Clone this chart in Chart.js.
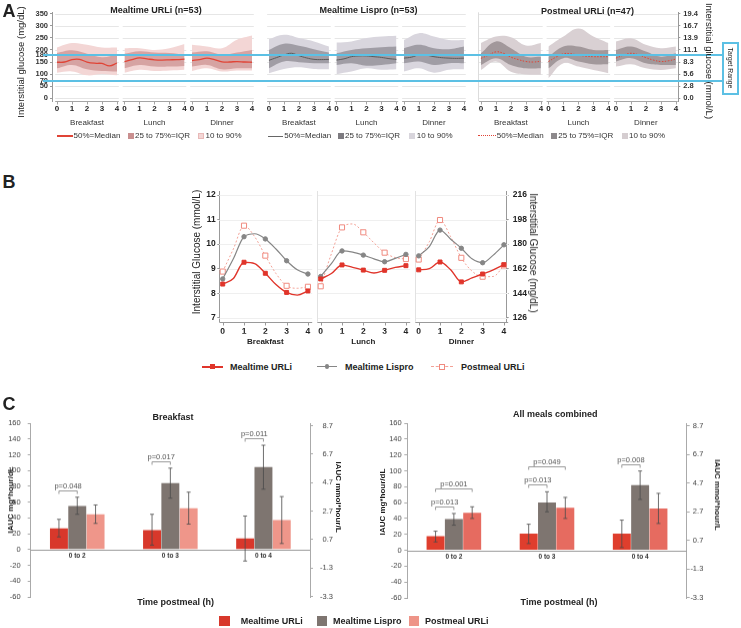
<!DOCTYPE html>
<html><head><meta charset="utf-8">
<script src="https://cdn.jsdelivr.net/npm/chart.js@4.4.1/dist/chart.umd.min.js"></script>
<style>
html,body{margin:0;padding:0;background:#fff;}
body{position:relative;width:741px;height:628px;overflow:hidden;font-family:"Liberation Sans",Arial,sans-serif;}
canvas{position:absolute;}
.t{position:absolute;white-space:nowrap;line-height:1;color:#222;}
.b{position:absolute;box-sizing:border-box;}
</style></head><body>
<script>
// ================= DATA =================
const mealNames = ['Breakfast', 'Lunch', 'Dinner'];
const hourTicks = [0, 1, 2, 3, 4];
const hoursA = [0, 1, 2, 3, 4];
const hoursHalf = [0, 0.5, 1, 1.5, 2, 2.5, 3, 3.5, 4];

// Panel A: interstitial glucose (mg/dL), per meal [Breakfast, Lunch, Dinner]
const groupTitlesA = ['Mealtime URLi (n=53)', 'Mealtime Lispro (n=53)', 'Postmeal URLi (n=47)'];
const urliMedA   = [[149,150,160,161,150,145,144,134,146],[152,160,167,163,159,158,159,160,162],[156,160,166,160,151,150,152,150,149]];
const urliP10A   = [[106,111,95,101,95],[106,118,113,115,118],[113,124,111,115,115]];
const urliP25A   = [[124,138,120,113,111],[124,138,131,131,134],[131,138,120,124,124]];
const urliP75A   = [[187,198,184,170,180],[184,194,189,187,180],[189,194,180,189,200]];
const urliP90A   = [[210,228,221,210,210],[207,207,200,207,224],[221,214,207,242,259]];
const lisproMedA = [[157,168,179,186,176,167,161,160,161],[158,163,172,175,175,172,169,164,161],[166,170,179,178,172,168,166,165,166]];
const lisproP10A = [[104,121,128,121,120],[100,111,124,118,120],[111,124,106,118,120]];
const lisproP25A = [[124,152,149,145,145],[138,145,135,138,145],[145,152,138,145,145]];
const lisproP75A = [[200,225,217,203,189],[186,200,207,211,214],[207,221,207,203,214]];
const lisproP90A = [[244,262,249,235,214],[230,235,249,255,258],[241,269,255,241,241]];
const postMedA   = [[165,178,192,186,170,160,152,150,153],[152,170,184,184,178,174,172,172,172],[166,178,186,180,168,158,152,155,162]];
const postP10A   = [[117,152,110,99,97],[83,145,131,117,104],[131,141,124,117,124]];
const postP25A   = [[138,166,138,124,124],[124,166,152,141,141],[152,166,145,138,138]];
const postP75A   = [[186,235,207,172,172],[172,214,214,200,200],[200,214,193,172,186]];
const postP90A   = [[228,255,252,218,228],[214,255,288,255,228],[235,248,221,207,214]];
const mgTicksA   = [0, 50, 70, 100, 150, 180, 200, 250, 300, 350];
const mmolTickPosA = [0, 50, 100, 150, 200, 250, 300, 350];
const gridA      = [0, 50, 100, 150, 200, 250, 300, 350];
const targetRange = [70, 180];

// Panel B: mean interstitial glucose (mmol/L), per meal at half-hour steps
const urliB   = [[8.37,8.60,9.26,9.20,8.81,8.35,8.03,7.92,8.09],[8.58,8.80,9.15,9.05,8.94,8.82,8.93,9.05,9.12],[8.95,9.00,9.27,8.95,8.46,8.62,8.78,8.95,9.16]];
const lisproB = [[8.58,9.40,10.30,10.42,10.21,9.80,9.32,8.95,8.78],[8.68,9.20,9.72,9.67,9.55,9.40,9.28,9.42,9.58],[9.52,9.90,10.57,10.20,9.83,9.40,9.24,9.55,9.97]];
const postB   = [[8.88,9.80,10.75,10.30,9.53,8.80,8.30,8.20,8.26],[8.28,9.60,10.68,10.82,10.48,10.05,9.65,9.45,9.39],[9.37,10.10,10.98,10.30,9.44,8.90,8.67,8.68,9.13]];
const seriesNamesB = ['Mealtime URLi', 'Mealtime Lispro', 'Postmeal URLi'];
const mmolTicksB = [7, 8, 9, 10, 11, 12];

// Panel C: IAUC (mg*hour/dL)
const periods = ['0 to 2', '0 to 3', '0 to 4'];
const bfUrli = [26.7, 24.6, 14.0];
const bfLispro = [55.2, 84.0, 104.4];
const bfPost = [44.6, 52.2, 37.3];
const bfUrliErr = [[16, 38.2], [5.5, 44.6], [-14.5, 42.4]];
const bfLisproErr = [[44.6, 66.2], [65, 103], [76.4, 132]];
const bfPostErr = [[33.1, 56.4], [32.2, 72.6], [7.6, 67]];
const bfP = [[0, 0, 1, 'p=0.048'], [1, 0, 1, 'p=0.017'], [2, 0, 1, 'p=0.011']];
const allUrli = [17.7, 21.0, 21.0];
const allLispro = [39.1, 60.2, 82.0];
const allPost = [47.1, 53.4, 52.6];
const allUrliErr = [[10.5, 24], [8.4, 32.8], [3.4, 37.9]];
const allLisproErr = [[31.6, 46.3], [48.4, 73.6], [64, 99.7]];
const allPostErr = [[40, 54.7], [40, 66.5], [33.7, 71.6]];
const allP = [[0, 0, 1, 'p=0.013'], [0, 0, 2, 'p=0.001'], [1, 0, 1, 'p=0.013'], [1, 0, 2, 'p=0.049'], [2, 0, 1, 'p=0.008']];
const mgTicksC = [-60, -40, -20, 0, 20, 40, 60, 80, 100, 120, 140, 160];
const mmolTicksC = [-3.3, -1.3, 0.7, 2.7, 4.7, 6.7, 8.7];

// ================= HELPERS =================
const FONT = '"Liberation Sans", Arial, sans-serif';
Chart.defaults.font.family = FONT;
Chart.defaults.color = '#222';

function T(text, x, y, o = {}) {
  const d = document.createElement('div');
  d.className = 't'; d.textContent = text;
  d.style.left = x + 'px'; d.style.top = y + 'px';
  d.style.fontSize = (o.size || 9) + 'px';
  d.style.fontWeight = o.bold ? 'bold' : 'normal';
  d.style.color = o.color || '#222';
  const ax = o.align === 'l' ? '0' : o.align === 'r' ? '-100%' : '-50%';
  d.style.transform = `translate(${ax},-50%)` + (o.rot ? ` rotate(${o.rot}deg)` : '');
  document.body.appendChild(d);
}
function B(x, y, w, h, css) {
  const d = document.createElement('div'); d.className = 'b';
  d.style.cssText += `left:${x}px;top:${y}px;width:${w}px;height:${h}px;${css}`;
  document.body.appendChild(d);
}
function mkCanvas(left, top, w, h) {
  const c = document.createElement('canvas');
  c.width = w; c.height = h;
  c.style.left = left + 'px'; c.style.top = top + 'px';
  c.style.width = w + 'px'; c.style.height = h + 'px';
  document.body.appendChild(c);
  return c;
}
function common(padding) {
  return { responsive: false, animation: false, events: [], layout: { padding, autoPadding: false },
    plugins: { legend: { display: false }, tooltip: { enabled: false } } };
}
const fixW = w => s => { s.width = w; };
const fixH = h => s => { s.height = h; };
const setTicks = vals => s => { s.ticks = vals.map(v => ({ value: v })); };
function seg(ctx, x0, y0, x1, y1) { ctx.beginPath(); ctx.moveTo(x0, y0); ctx.lineTo(x1, y1); ctx.stroke(); }

// ================= PANEL A =================
const offA = (g, m) => g * 14.13 + m * 4.5;
const segA = [];
[0, 1, 2].forEach(g => [0, 1, 2].forEach(m => segA.push(offA(g, m))));
const groupsA = [
  { med: urliMedA, p10: urliP10A, p25: urliP25A, p75: urliP75A, p90: urliP90A, outer: '#f3d6d5', inner: '#d6a3a2', line: '#e04436', lw: 1.3, dash: [] },
  { med: lisproMedA, p10: lisproP10A, p25: lisproP25A, p75: lisproP75A, p90: lisproP90A, outer: '#d9d6de', inner: '#a09da5', line: '#5a5a5a', lw: 1, dash: [] },
  { med: postMedA, p10: postP10A, p25: postP25A, p75: postP75A, p90: postP90A, outer: '#d9d0d3', inner: '#a2989b', line: '#e04436', lw: 1, dash: [1.5, 1.5] }
];
const dsA = [];
groupsA.forEach((g, gi) => mealNames.forEach((_, mi) => {
  const off = offA(gi, mi);
  const pts = (arr, hrs) => arr.map((v, k) => ({ x: off + hrs[k], y: v }));
  const band = (arr, fill, color) => ({ data: pts(arr, hoursA), borderWidth: 0, borderColor: 'rgba(0,0,0,0)', pointRadius: 0, fill, backgroundColor: color, tension: 0.4 });
  dsA.push({ data: pts(g.med[mi], hoursHalf), borderColor: g.line, borderWidth: g.lw, borderDash: g.dash, pointRadius: 0, fill: false, tension: 0.4 });
  dsA.push(band(g.p75[mi], '+1', g.inner));
  dsA.push(band(g.p25[mi], false, 'rgba(0,0,0,0)'));
  dsA.push(band(g.p90[mi], '+1', g.outer));
  dsA.push(band(g.p10[mi], false, 'rgba(0,0,0,0)'));
}));
const panelAPlugin = {
  id: 'panelA',
  beforeDatasetsDraw(chart) {
    const { ctx, chartArea: ca, scales: { x, y } } = chart;
    ctx.save(); ctx.lineWidth = 1;
    segA.forEach(off => {
      const x0 = x.getPixelForValue(off - 0.12), x1 = x.getPixelForValue(off + 4.12);
      ctx.strokeStyle = '#e6e6e6';
      gridA.forEach(v => { const py = Math.round(y.getPixelForValue(v)) + 0.5; seg(ctx, x0, py, x1, py); });
      ctx.strokeStyle = '#a5a5a5';
      const by = Math.round(ca.bottom) + 0.5;
      seg(ctx, x0, by, x1, by);
      hourTicks.forEach(h => { const px = Math.round(x.getPixelForValue(off + h)) + 0.5; seg(ctx, px, by, px, by + 3); });
    });
    ctx.strokeStyle = '#dcdcdc';
    const gx = Math.round(x.getPixelForValue(offA(2, 0) - 0.2)) + 0.5;
    seg(ctx, gx, ca.top, gx, ca.bottom);
    ctx.restore();
  },
  afterDatasetsDraw(chart) {
    const { ctx, scales: { y } } = chart;
    ctx.save(); ctx.strokeStyle = '#5cc0e4'; ctx.lineWidth = 2;
    targetRange.forEach(v => { const py = Math.round(y.getPixelForValue(v)); seg(ctx, 43, py, 722, py); });
    ctx.restore();
  }
};
new Chart(mkCanvas(0, 0, 741, 130), {
  type: 'line',
  data: { datasets: dsA },
  options: Object.assign(common({ left: 0, right: 0, top: 12.3, bottom: 0 }), {
    scales: {
      x: { type: 'linear', weight: 0, min: -0.333, max: 41.42,
        afterBuildTicks: setTicks(segA.flatMap(o => hourTicks.map(h => o + h))),
        ticks: { autoSkip: false, maxRotation: 0, padding: 3, font: { size: 8, weight: 'bold' }, color: '#222', callback: (v, i) => String(hourTicks[i % 5]) },
        grid: { display: false, drawTicks: false }, border: { display: false }, afterFit: fixH(12.8) },
      xm: { type: 'linear', axis: 'x', position: 'bottom', weight: 1, min: -0.333, max: 41.42,
        afterBuildTicks: setTicks(segA.map(o => o + 2)),
        ticks: { autoSkip: false, maxRotation: 0, padding: 4, font: { size: 8 }, color: '#333', callback: (v, i) => mealNames[i % 3] },
        grid: { display: false, drawTicks: false }, border: { display: false }, afterFit: fixH(15.9) },
      y: { position: 'left', min: -12, max: 355, afterBuildTicks: setTicks(mgTicksA),
        ticks: { autoSkip: false, padding: 2, font: { size: 7.5, weight: 'bold' }, color: '#333' },
        grid: { drawOnChartArea: false, tickLength: 2, color: '#999' }, border: { color: '#999' }, afterFit: fixW(52) },
      y2: { position: 'right', min: -12, max: 355, afterBuildTicks: setTicks(mmolTickPosA),
        ticks: { autoSkip: false, padding: 3, font: { size: 7.5, weight: 'bold' }, color: '#333', callback: v => (v / 18).toFixed(1) },
        grid: { drawOnChartArea: false, tickLength: 2, color: '#999' }, border: { color: '#999' }, afterFit: fixW(62.7) }
    }
  }),
  plugins: [panelAPlugin]
});

// ================= PANEL B =================
const offB = m => m * 4.6;
const styleB = [
  { color: '#e0352b', dash: [], ps: 'rect', r: 2.8, bg: '#e0352b', pb: '#e0352b', bw: 1.4 },
  { color: '#868686', dash: [], ps: 'circle', r: 2.2, bg: '#868686', pb: '#868686', bw: 1.2 },
  { color: '#f3a196', dash: [2, 2], ps: 'rect', r: 3.6, bg: '#ffffff', pb: '#f08a7f', bw: 1 }
];
const dsB = [];
[urliB, lisproB, postB].forEach((ser, si) => mealNames.forEach((_, mi) => {
  const st = styleB[si], off = offB(mi);
  dsB.push({ data: ser[mi].map((v, k) => ({ x: off + hoursHalf[k], y: v })),
    borderColor: st.color, borderWidth: st.bw, borderDash: st.dash, fill: false, cubicInterpolationMode: 'monotone',
    pointStyle: st.ps, pointRadius: c => (c.dataIndex % 2 === 0 ? st.r : 0),
    pointBackgroundColor: st.bg, pointBorderColor: st.pb, pointBorderWidth: 1 });
}));
const panelBPlugin = {
  id: 'panelB',
  beforeDatasetsDraw(chart) {
    const { ctx, chartArea: ca, scales: { x, y } } = chart;
    ctx.save(); ctx.lineWidth = 1;
    mealNames.forEach((_, mi) => {
      const off = offB(mi);
      const x0 = x.getPixelForValue(off - 0.16), x1 = x.getPixelForValue(off + 4.2);
      ctx.strokeStyle = '#efefef';
      mmolTicksB.forEach(v => { const py = Math.round(y.getPixelForValue(v)) + 0.5; seg(ctx, x0, py, x1, py); });
      if (mi > 0) { ctx.strokeStyle = '#e2e2e2'; const vx = Math.round(x0) + 0.5; seg(ctx, vx, ca.top, vx, ca.bottom); }
      ctx.strokeStyle = '#9a9a9a';
      const by = Math.round(ca.bottom) + 0.5;
      seg(ctx, x0, by, x1, by);
      hourTicks.forEach(h => { const px = Math.round(x.getPixelForValue(off + h)) + 0.5; seg(ctx, px, by, px, by + 3); });
    });
    ctx.restore();
  }
};
new Chart(mkCanvas(150, 180, 400, 166), {
  type: 'line',
  data: { datasets: dsB },
  options: Object.assign(common({ left: 0, right: 0, top: 11, bottom: 0 }), {
    scales: {
      x: { type: 'linear', weight: 0, min: -0.16, max: 13.33,
        afterBuildTicks: setTicks(mealNames.flatMap((_, m) => hourTicks.map(h => offB(m) + h))),
        ticks: { autoSkip: false, maxRotation: 0, padding: 5, font: { size: 8.5, weight: 'bold' }, color: '#222', callback: (v, i) => String(hourTicks[i % 5]) },
        grid: { display: false, drawTicks: false }, border: { display: false }, afterFit: fixH(12) },
      xm: { type: 'linear', axis: 'x', position: 'bottom', weight: 1, min: -0.16, max: 13.33,
        afterBuildTicks: setTicks(mealNames.map((_, m) => offB(m) + 2)),
        ticks: { autoSkip: false, maxRotation: 0, padding: 3, font: { size: 8, weight: 'bold' }, color: '#222', callback: (v, i) => mealNames[i] },
        grid: { display: false, drawTicks: false }, border: { display: false }, afterFit: fixH(12.3) },
      y: { position: 'left', min: 6.837, max: 12.163, afterBuildTicks: setTicks(mmolTicksB),
        ticks: { autoSkip: false, padding: 1.5, font: { size: 8.5, weight: 'bold' }, color: '#222' },
        grid: { drawOnChartArea: false, tickLength: 2, color: '#999' }, border: { color: '#999' }, afterFit: fixW(69.3) },
      y2: { position: 'right', min: 6.837, max: 12.163, afterBuildTicks: setTicks(mmolTicksB),
        ticks: { autoSkip: false, padding: 4, font: { size: 8.5, weight: 'bold' }, color: '#222', callback: v => String(Math.round(v * 18)) },
        grid: { drawOnChartArea: false, tickLength: 2, color: '#999' }, border: { color: '#999' }, afterFit: fixW(43.3) }
    }
  }),
  plugins: [panelBPlugin]
});

// ================= PANEL C =================
function statsPlugin(pairs) {
  return {
    id: 'stats',
    afterDatasetsDraw(chart) {
      const { ctx, chartArea: ca, scales: { x, y } } = chart;
      const dss = chart.data.datasets;
      ctx.save();
      const y0p = Math.round(y.getPixelForValue(0)) + 0.5;
      ctx.strokeStyle = '#9a9a9a'; ctx.lineWidth = 1;
      seg(ctx, ca.left, y0p, ca.right, y0p);
      ctx.fillStyle = '#333'; ctx.font = 'bold 6.5px ' + FONT; ctx.textAlign = 'center'; ctx.textBaseline = 'top';
      chart.data.labels.forEach((lab, i) => ctx.fillText(lab, x.getPixelForValue(i), y0p + 2.5));
      ctx.strokeStyle = '#4a4a4a'; ctx.lineWidth = 0.8;
      dss.forEach((ds, di) => {
        chart.getDatasetMeta(di).data.forEach((bar, j) => {
          const [lo, hi] = ds.err[j];
          const px = bar.x, ya = y.getPixelForValue(lo), yb = y.getPixelForValue(hi);
          seg(ctx, px, ya, px, yb); seg(ctx, px - 2, ya, px + 2, ya); seg(ctx, px - 2, yb, px + 2, yb);
        });
      });
      const levels = {};
      ctx.font = '7.5px ' + FONT; ctx.textAlign = 'center'; ctx.textBaseline = 'bottom';
      pairs.forEach(([c, a, b, label]) => {
        const xa = chart.getDatasetMeta(a).data[c].x, xb = chart.getDatasetMeta(b).data[c].x;
        const top = Math.min(y.getPixelForValue(dss[a].err[c][1]), y.getPixelForValue(dss[b].err[c][1]));
        let py = Math.round(top - 7) + 0.5;
        if (levels[c] !== undefined) py = levels[c] - 18;
        levels[c] = py;
        ctx.strokeStyle = '#9a9a9a'; ctx.lineWidth = 1;
        ctx.beginPath(); ctx.moveTo(xa, py + 3); ctx.lineTo(xa, py); ctx.lineTo(xb, py); ctx.lineTo(xb, py + 3); ctx.stroke();
        ctx.fillStyle = '#555';
        ctx.fillText(label, (xa + xb) / 2, py - 1);
      });
      ctx.restore();
    }
  };
}
function panelC(left, top, w, h, pad, yW, yPad, y2W, y2Pad, sets, pairs) {
  new Chart(mkCanvas(left, top, w, h), {
    type: 'bar',
    data: { labels: periods, datasets: sets.map(s => ({ label: s.label, data: s.data, err: s.err, backgroundColor: s.color, borderWidth: 0, categoryPercentage: 0.59, barPercentage: 0.98 })) },
    options: Object.assign(common(pad), {
      scales: {
        x: { type: 'category', display: false, offset: true },
        y: { position: 'left', min: -60, max: 160, afterBuildTicks: setTicks(mgTicksC),
          ticks: { autoSkip: false, padding: yPad, font: { size: 7.5 }, color: '#444' },
          grid: { drawOnChartArea: false, tickLength: 3, color: '#aaa' }, border: { color: '#aaa' }, afterFit: fixW(yW) },
        y2: { position: 'right', min: -60 / 18, max: 160 / 18, afterBuildTicks: setTicks(mmolTicksC),
          ticks: { autoSkip: false, padding: y2Pad, crossAlign: 'far', font: { size: 7.5 }, color: '#444', callback: v => v.toFixed(1) },
          grid: { drawOnChartArea: false, tickLength: 3, color: '#aaa' }, border: { color: '#aaa' }, afterFit: fixW(y2W) }
      }
    }),
    plugins: [statsPlugin(pairs)]
  });
}
panelC(0, 411.3, 345, 197.4, { left: 0, right: 12, top: 12, bottom: 12 }, 30.7, 7, 23, 7, [
  { label: seriesNamesB[0], data: bfUrli, err: bfUrliErr, color: '#d8382b' },
  { label: seriesNamesB[1], data: bfLispro, err: bfLisproErr, color: '#7e7570' },
  { label: seriesNamesB[2], data: bfPost, err: bfPostErr, color: '#ef968a' }
], bfP);
panelC(372, 411.3, 369, 198.4, { left: 0, right: 37.7, top: 12, bottom: 12 }, 35.3, 2.6, 16.6, 1, [
  { label: seriesNamesB[0], data: allUrli, err: allUrliErr, color: '#df3e2d' },
  { label: seriesNamesB[1], data: allLispro, err: allLisproErr, color: '#7e7570' },
  { label: seriesNamesB[2], data: allPost, err: allPostErr, color: '#e66b60' }
], allP);

// ================= TEXT / LEGENDS =================
// Panel A
T('A', 9, 11, { size: 18, bold: true });
T('Interstitial glucose (mg/dL)', 21, 62, { size: 9.5, rot: -90 });
T('Interstitial glucose (mmol/L)', 709, 61, { size: 9.5, rot: 90 });
T(groupTitlesA[0], 156, 10, { size: 9, bold: true });
T(groupTitlesA[1], 368.5, 10, { size: 9, bold: true });
T(groupTitlesA[2], 587.5, 11, { size: 9, bold: true });
B(722, 42, 16.5, 52.5, 'border:2px solid #5cc0e4;background:#fff;');
T('Target Range', 730.2, 68.3, { size: 6.8, rot: 90 });
// legends A
B(57, 135.3, 16, 1.6, 'background:#e04436;');
T('50%=Median', 73.5, 136, { size: 8, align: 'l', color: '#333' });
B(127.7, 133, 6, 6, 'background:#c98f8f;');
T('25 to 75%=IQR', 135, 136, { size: 8, align: 'l', color: '#333' });
B(198.3, 133, 6, 6, 'background:#f3d6d5;border:1px solid #e8b9b8;');
T('10 to 90%', 205.5, 136, { size: 8, align: 'l', color: '#333' });
B(268.3, 135.5, 15, 1.2, 'background:#666;');
T('50%=Median', 284.3, 136, { size: 8, align: 'l', color: '#333' });
B(338.3, 133, 6, 6, 'background:#7d7b80;');
T('25 to 75%=IQR', 345, 136, { size: 8, align: 'l', color: '#333' });
B(409.3, 133, 6, 6, 'background:#d8d5dc;');
T('10 to 90%', 416.7, 136, { size: 8, align: 'l', color: '#333' });
B(478.3, 135.3, 17.5, 2, 'border-top:1.5px dotted #e04436;');
T('50%=Median', 496.7, 136, { size: 8, align: 'l', color: '#333' });
B(551, 133, 6, 6, 'background:#8d898c;');
T('25 to 75%=IQR', 558.3, 136, { size: 8, align: 'l', color: '#333' });
B(621.7, 133, 6, 6, 'background:#d5cdd0;');
T('10 to 90%', 629, 136, { size: 8, align: 'l', color: '#333' });

// Panel B
T('B', 9, 182, { size: 18, bold: true });
T('Interstitial Glucose (mmol/L)', 196.7, 252, { size: 10, rot: -90 });
T('Interstitial Glucose (mg/dL)', 533.3, 253, { size: 10, rot: 90 });
B(202, 366, 21, 1.5, 'background:#e0352b;');
B(210, 364.2, 5, 5, 'background:#e0352b;');
T(seriesNamesB[0], 230, 366.7, { size: 9, bold: true, align: 'l' });
B(317, 366, 20, 1.3, 'background:#868686;');
B(324.7, 364.4, 4.6, 4.6, 'background:#868686;border-radius:50%;');
T(seriesNamesB[1], 345, 366.7, { size: 9, bold: true, align: 'l' });
B(431, 366, 22, 2, 'border-top:1px dashed #f3a196;');
B(439, 363.5, 6, 6, 'background:#fff;border:1px solid #f08a7f;');
T(seriesNamesB[2], 461, 366.7, { size: 9, bold: true, align: 'l' });

// Panel C
T('C', 9, 404, { size: 18, bold: true });
T('Breakfast', 173, 416.7, { size: 9, bold: true });
T('All meals combined', 555.3, 414.3, { size: 9, bold: true });
T('IAUC  mg*hour/dL', 11, 500, { size: 8, bold: true, rot: -90 });
T('IAUC  mmol*hour/L', 338.3, 497, { size: 8, bold: true, rot: 90 });
T('IAUC  mg*hour/dL', 382.5, 502, { size: 8, bold: true, rot: -90 });
T('IAUC  mmol*hour/L', 716.7, 495, { size: 8, bold: true, rot: 90 });
T('Time postmeal (h)', 175.7, 601.7, { size: 9, bold: true });
T('Time postmeal (h)', 559, 602.3, { size: 9, bold: true });
B(219.3, 616, 11, 10, 'background:#d8382b;');
T(seriesNamesB[0], 240.7, 621, { size: 9, bold: true, align: 'l' });
B(316.7, 616, 10, 10, 'background:#7e7570;');
T(seriesNamesB[1], 333, 621, { size: 9, bold: true, align: 'l' });
B(409, 616, 10, 10, 'background:#ee9488;');
T(seriesNamesB[2], 425, 621, { size: 9, bold: true, align: 'l' });
</script>
</body></html>
